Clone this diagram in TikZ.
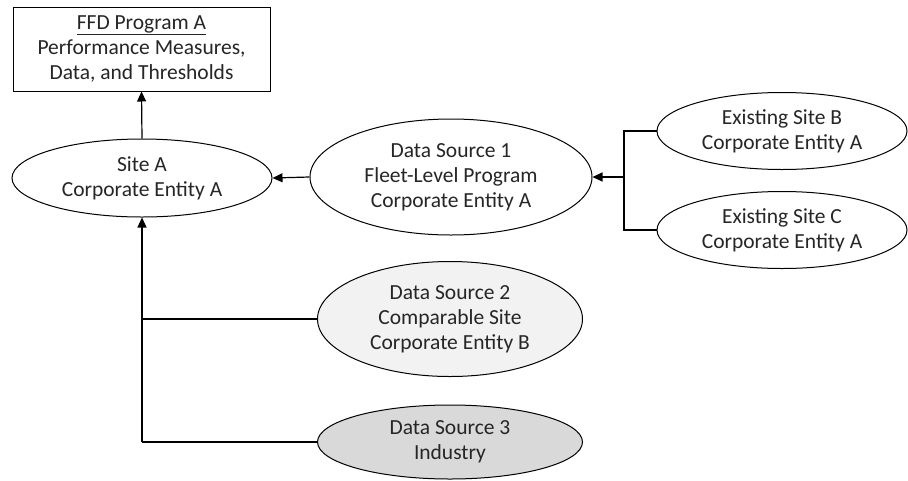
\documentclass[tikz,border=0pt]{standalone}
\usepackage{fontspec}
\setmainfont{Carlito}
\usetikzlibrary{shapes.geometric,arrows.meta}
\begin{document}
\begin{tikzpicture}[x=1pt,y=-1pt,
  every node/.style={font=\fontsize{21.5}{25}\selectfont, align=center, text=black!85, inner sep=0pt},
  boxnode/.style={draw, line width=1pt, fill=white},
  ell/.style={ellipse, draw, line width=1pt, fill=white},
  conn/.style={line width=1.2pt},
  arr/.style={line width=1.2pt, -{Triangle[length=10pt,width=9pt]}}]
\useasboundingbox (0,0) rectangle (908,480);
\node[boxnode, minimum width=257pt, minimum height=84pt] (box) at (141.5,49) {\underline{FFD Program A}\\Performance Measures,\\Data, and Thresholds};
\node[ell, minimum width=260pt, minimum height=78pt] (siteA) at (142,178) {Site A\\Corporate Entity A};
\node[ell, minimum width=282pt, minimum height=116pt] (ds1) at (451,177) {Data Source 1\\Fleet-Level Program\\Corporate Entity A};
\node[ell, minimum width=250pt, minimum height=77pt] (exB) at (782,131) {Existing Site B\\Corporate Entity A};
\node[ell, minimum width=250pt, minimum height=77pt] (exC) at (782,230) {Existing Site C\\Corporate Entity A};
\node[ell, fill=black!5, minimum width=265pt, minimum height=115pt] (ds2) at (450,319) {Data Source 2\\Comparable Site\\Corporate Entity B};
\node[ell, fill=black!15, minimum width=265pt, minimum height=74pt] (ds3) at (450,442) {Data Source 3\\Industry};
\coordinate (bj) at (624,177);
\coordinate (vj) at (142,319);
\coordinate (vb) at (142,442);
\draw[arr] (siteA.north) -- (box.south);
\draw[arr] (ds1.west) -- (siteA.east);
\draw[conn] (exB.west) -| (bj) |- (exC.west);
\draw[arr] (bj) -- (ds1.east);
\draw[conn] (ds3.west) -- (vb);
\draw[conn] (ds2.west) -- (vj);
\draw[arr] (vb) -- (siteA.south);
\end{tikzpicture}
\end{document}
